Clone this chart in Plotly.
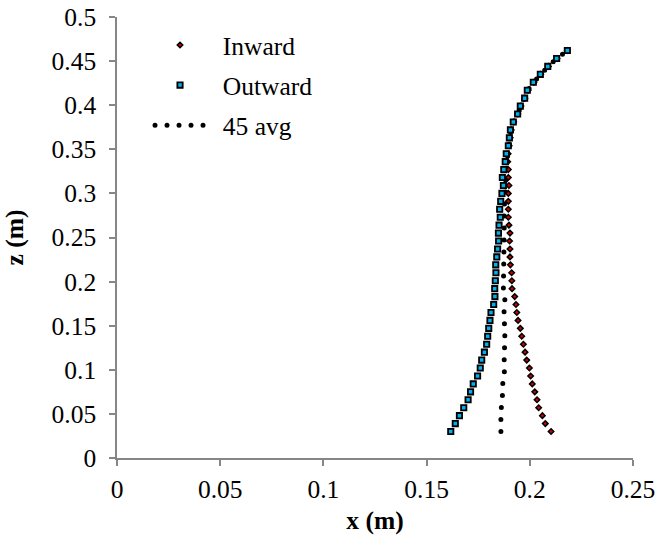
import plotly.graph_objects as go

# z positions (m)
z_vals = [0.030, 0.039, 0.048, 0.057, 0.066, 0.075, 0.084, 0.093, 0.102, 0.111,
          0.120, 0.129, 0.138, 0.147, 0.156, 0.165, 0.174, 0.183, 0.192, 0.201,
          0.210, 0.219, 0.228, 0.237, 0.246, 0.255, 0.264, 0.273, 0.282, 0.291,
          0.300, 0.309, 0.318, 0.327, 0.336, 0.345, 0.354, 0.363, 0.372, 0.381,
          0.390, 0.399, 0.408, 0.417, 0.426, 0.435, 0.444, 0.453, 0.462]

inward_x = [0.2103, 0.2075, 0.2061, 0.2043, 0.2035, 0.2024, 0.2012, 0.2004, 0.1998, 0.1985,
            0.1977, 0.1969, 0.1961, 0.1954, 0.1943, 0.1937, 0.1933, 0.1927, 0.1914, 0.1913,
            0.1912, 0.1906, 0.1904, 0.1904, 0.1902, 0.1904, 0.1899, 0.1896, 0.1896, 0.1896,
            0.1896, 0.1899, 0.1896, 0.1896, 0.1893, 0.1895, 0.1900, 0.1905, 0.1910, 0.1922,
            0.1942, 0.1957, 0.1976, 0.1992, 0.2020, 0.2053, 0.2090, 0.2132, 0.2182]

outward_x = [0.1617, 0.1639, 0.1659, 0.1680, 0.1701, 0.1713, 0.1726, 0.1747, 0.1760, 0.1767,
             0.1780, 0.1791, 0.1796, 0.1801, 0.1807, 0.1812, 0.1825, 0.1831, 0.1830, 0.1833,
             0.1836, 0.1835, 0.1840, 0.1844, 0.1849, 0.1848, 0.1851, 0.1857, 0.1854, 0.1859,
             0.1865, 0.1872, 0.1867, 0.1874, 0.1881, 0.1886, 0.1896, 0.1901, 0.1906, 0.1920,
             0.1941, 0.1954, 0.1975, 0.1988, 0.2017, 0.2051, 0.2087, 0.2130, 0.2182]

avg_x = [0.1860, 0.1857, 0.1860, 0.1862, 0.1868, 0.1869, 0.1869, 0.1876, 0.1879, 0.1876,
         0.1879, 0.1880, 0.1879, 0.1878, 0.1875, 0.1875, 0.1879, 0.1879, 0.1872, 0.1873,
         0.1874, 0.1871, 0.1872, 0.1874, 0.1876, 0.1876, 0.1875, 0.1877, 0.1875, 0.1878,
         0.1881, 0.1886, 0.1882, 0.1885, 0.1887, 0.1891, 0.1898, 0.1903, 0.1908, 0.1921,
         0.1942, 0.1956, 0.1976, 0.1990, 0.2019, 0.2052, 0.2089, 0.2131, 0.2182]

x_ticks = [0, 0.05, 0.1, 0.15, 0.2, 0.25]
z_ticks = [0, 0.05, 0.1, 0.15, 0.2, 0.25, 0.3, 0.35, 0.4, 0.45, 0.5]

FONT = "Liberation Serif, Times New Roman, serif"
FS = 25.5
AXIS_COLOR = "#868686"
PAD = "\u00a0\u00a0"

fig = go.Figure()

fig.add_trace(go.Scatter(
    x=avg_x, y=z_vals, name=PAD + "45 avg", mode="lines",
    line=dict(color="black", width=5, dash="0px,12px"),
    legendrank=3, legendgroup="c",
))
fig.add_trace(go.Scatter(
    x=inward_x, y=z_vals, name=PAD + "Inward", mode="markers",
    marker=dict(symbol="diamond", size=4.2, color="#D00000",
                line=dict(color="black", width=1.5)),
    legendrank=1, legendgroup="a",
))
fig.add_trace(go.Scatter(
    x=outward_x, y=z_vals, name=PAD + "Outward", mode="markers",
    marker=dict(symbol="square", size=5.3, color="#00B0F0",
                line=dict(color="black", width=1.8)),
    legendrank=2, legendgroup="b",
))

axis_common = dict(
    showgrid=False, zeroline=False, showline=True, linecolor=AXIS_COLOR,
    linewidth=1.5, ticks="outside", ticklen=6, tickcolor=AXIS_COLOR,
    tickwidth=1.5, tickfont=dict(family=FONT, size=FS, color="black"),
    automargin=False,
)

fig.update_layout(
    width=658, height=544,
    margin=dict(l=117, r=25, t=17, b=86),
    paper_bgcolor="white", plot_bgcolor="white",
    font=dict(family=FONT, size=FS, color="black"),
    showlegend=True,
    legend=dict(
        x=0.064, y=0.989, xanchor="left", yanchor="top",
        bgcolor="rgba(0,0,0,0)", font=dict(family=FONT, size=FS, color="black"),
        traceorder="grouped", tracegroupgap=4, itemwidth=50,
    ),
    xaxis=dict(range=[0, 0.25], tickvals=x_ticks, ticktext=[str(v) for v in x_ticks],
               ticklabelstandoff=2,
               title=dict(text="<b>x (m)</b>", font=dict(family=FONT, size=FS), standoff=8),
               **axis_common),
    yaxis=dict(range=[0, 0.5], tickvals=z_ticks, ticktext=[str(v) for v in z_ticks],
               ticklabelstandoff=8,
               title=dict(text="<b>z (m)</b>", font=dict(family=FONT, size=FS), standoff=22),
               **axis_common),
)

post = """
document.body.style.margin = '0';
document.body.style.padding = '0';
var gd = document.getElementById('{plot_id}');
function fixCaps(){
  document.querySelectorAll('path').forEach(function(p){
    var d = p.style.strokeDasharray || '';
    if (d.indexOf('0px') === 0 || d.indexOf('0,') === 0 || d.indexOf('0 ') === 0) {
      p.style.strokeLinecap = 'round';
    }
  });
}
fixCaps();
if (gd && gd.on) { gd.on('plotly_afterplot', fixCaps); }
"""

fig.write_html("out.html", post_script=post, config={"displayModeBar": False})
